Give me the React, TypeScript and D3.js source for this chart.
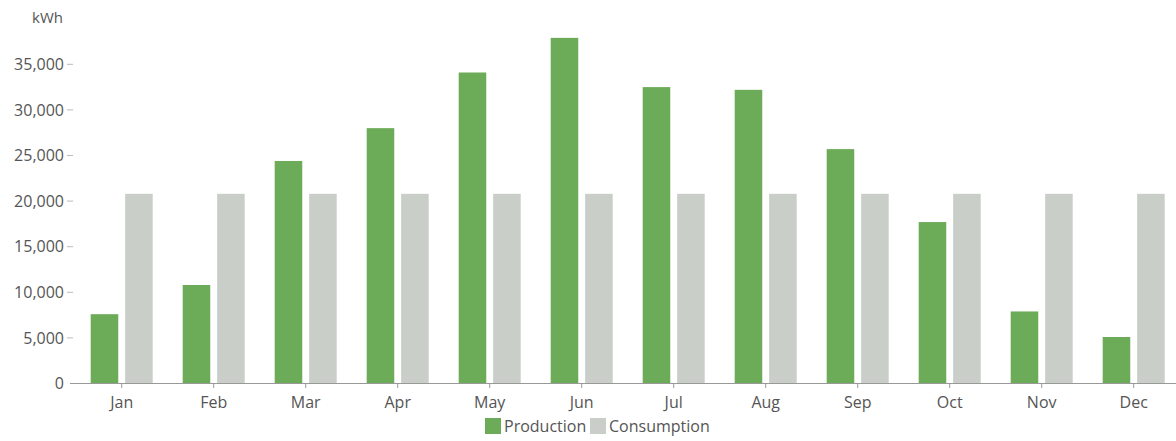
import React from "react";
import * as d3 from "d3";

const months = ["Jan", "Feb", "Mar", "Apr", "May", "Jun", "Jul", "Aug", "Sep", "Oct", "Nov", "Dec"];
const production = [7600, 10800, 24400, 28000, 34100, 37900, 32500, 32200, 25700, 17700, 7900, 5100];
const consumption = [20800, 20800, 20800, 20800, 20800, 20800, 20800, 20800, 20800, 20800, 20800, 20800];
const seriesNames = ["Production", "Consumption"];
const seriesColors = ["#6cab58", "#c9cec9"];
const yTicks = [0, 5000, 10000, 15000, 20000, 25000, 30000, 35000];

const W = 1176;
const H = 441;
const FONT = "'Open Sans', sans-serif";
const TEXT = "#555";

export default function App() {
  const x = d3.scaleBand<string>().domain(months).range([75.7, 1179.7]).paddingInner(0.326).paddingOuter(0.163);
  const xs = d3.scaleBand<string>().domain(seriesNames).range([0, x.bandwidth()]).paddingInner(0.2);
  const y = d3.scaleLinear().domain([0, 40000]).range([383.5, 18.7]);
  const fmt = d3.format(",");
  const values = [production, consumption];

  return (
    <svg width={W} height={H} style={{ position: "absolute", left: 0, top: 0, background: "#fff" }}>
      <text x={32} y={23} fontFamily={FONT} fontSize={15} fill={TEXT}>kWh</text>
      {yTicks.map((t) => (
        <g key={t}>
          <text x={64} y={y(t)} dy="0.35em" textAnchor="end" fontFamily={FONT} fontSize={16} fill={TEXT}>
            {fmt(t)}
          </text>
          {t !== 0 && <line x1={67} x2={73} y1={y(t)} y2={y(t)} stroke="#bbb" strokeWidth={1} />}
        </g>
      ))}
      {months.map((m, i) => (
        <g key={m} transform={`translate(${x(m)},0)`}>
          {seriesNames.map((s, j) => {
            const v = values[j][i];
            return (
              <rect
                key={s}
                x={xs(s)}
                y={y(v)}
                width={xs.bandwidth()}
                height={y(0) - y(v)}
                fill={seriesColors[j]}
              />
            );
          })}
        </g>
      ))}
      <line x1={70} x2={W} y1={383.5} y2={383.5} stroke="#999" strokeWidth={1} />
      {months.map((m) => {
        const cx = (x(m) as number) + x.bandwidth() / 2;
        return (
          <g key={m}>
            <line x1={cx} x2={cx} y1={383.5} y2={388} stroke="#999" strokeWidth={1} />
            <text x={cx} y={408} textAnchor="middle" fontFamily={FONT} fontSize={16} fill={TEXT}>
              {m}
            </text>
          </g>
        );
      })}
      <g>
        <rect x={485} y={418} width={16} height={16} fill={seriesColors[0]} />
        <text x={504} y={432} fontFamily={FONT} fontSize={16} fill={TEXT}>{seriesNames[0]}</text>
        <rect x={590} y={418} width={16} height={16} fill={seriesColors[1]} />
        <text x={609} y={432} fontFamily={FONT} fontSize={16} fill={TEXT}>{seriesNames[1]}</text>
      </g>
    </svg>
  );
}
